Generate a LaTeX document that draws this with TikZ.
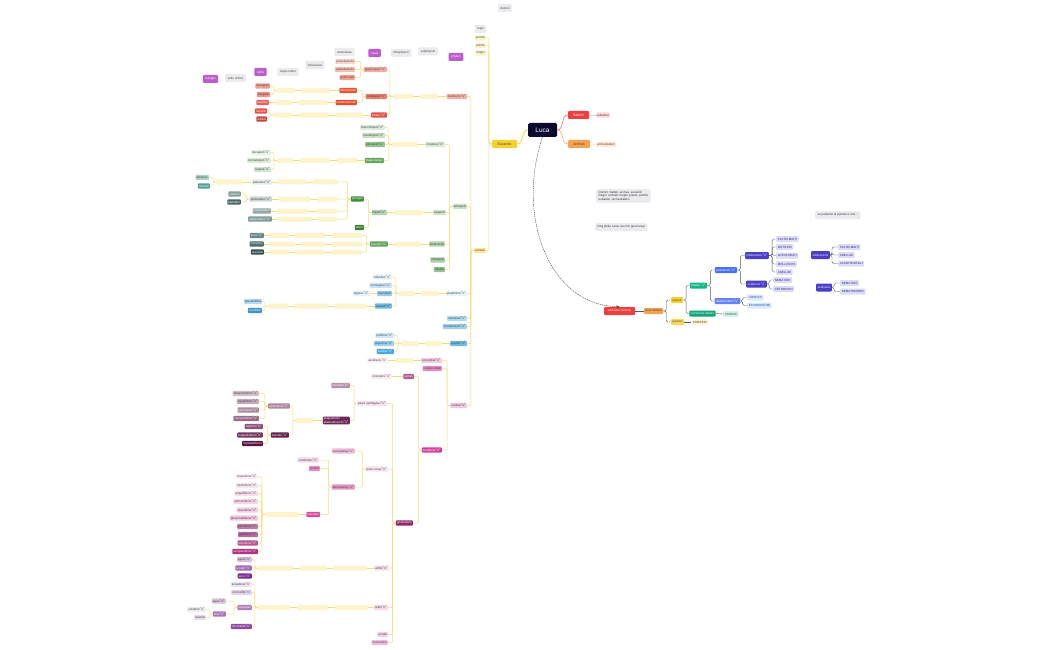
\documentclass[tikz,border=0pt]{standalone}
\usepackage{fontspec}
\setmainfont{Liberation Sans}
\definecolor{notte}{HTML}{0C0A30}
\definecolor{rossoB}{HTML}{F03E3E}
\definecolor{aranB}{HTML}{F9A24D}
\definecolor{gialB}{HTML}{FAD02C}
\definecolor{verB}{HTML}{12B886}
\definecolor{bluB}{HTML}{4C6EF5}
\definecolor{indB}{HTML}{4A3FC6}
\definecolor{lavanda}{HTML}{DCDCF5}
\definecolor{grigioE}{HTML}{EBEBEF}
\definecolor{violaE}{HTML}{BD5DCC}
\definecolor{vuotoc}{HTML}{FDF3CC}
\definecolor{lineaG}{HTML}{F7DC6F}
\definecolor{cSal}{HTML}{EE7C6F}
\definecolor{cAra}{HTML}{E8552F}
\definecolor{cRos}{HTML}{E4504B}
\definecolor{cVer}{HTML}{3F8F37}
\definecolor{cTea}{HTML}{2F8F80}
\definecolor{cGri}{HTML}{4F7472}
\definecolor{cAzz}{HTML}{3FA3DC}
\definecolor{cRsa}{HTML}{D6409A}
\definecolor{cPru}{HTML}{5A1243}
\definecolor{cVio}{HTML}{7A2A91}
\newcommand{\giu}{\,$\scriptstyle\vee$}
\tikzset{
  nodo/.style={rounded corners=1pt, inner xsep=1.1pt, inner ysep=0.6pt, minimum height=5.4pt, text=black!75, font=\fontsize{3}{3.4}\selectfont},
  bianco/.style={nodo, text=white},
  vuoto/.style={rounded corners=1pt, fill=vuotoc, minimum height=5pt, inner sep=0pt},
  etic/.style={nodo, fill=grigioE, minimum height=8pt, inner xsep=2.5pt},
  etiv/.style={etic, fill=violaE, text=white},
  nota/.style={nodo, fill=grigioE, rounded corners=1.5pt, align=left, inner xsep=2.5pt, inner ysep=2pt, text=black!80},
  dx/.style={nodo, minimum height=6pt, inner xsep=1.6pt},
  foglia/.style={dx, fill=lavanda, text=indB!70!black, anchor=west},
  lgiallo/.style={draw=lineaG, line width=0.5pt, rounded corners=1.2pt},
  lgrigio/.style={draw=black!65, line width=0.4pt, rounded corners=1.5pt}
}
\begin{document}
\begin{tikzpicture}[x=1pt,y=-1pt]
\useasboundingbox (0,0) rectangle (1050,650);
\fill[white] (0,0) rectangle (1050,650);

% intestazioni
\node[etiv] (famiglie) at (210.5,79) {famiglie};
\node[etic] (sottordine) at (235.5,78) {sotto ordine};
\node[etiv] (ordini) at (260.5,72) {ordini};
\node[etic] (superordine) at (288,72) {superordine};
\node[etic] (infraclasse) at (315,65) {infraclasse};
\node[etic] (sottoclasse) at (344.5,52) {sottoclasse};
\node[etiv] (classi) at (374.5,53) {classi};
\node[etic] (infraphylum) at (401,53) {infraphylum};
\node[etic] (subphylum) at (428,51.5) {subphylum};
\node[etiv] (phylum) at (456,57) {phylum};
\node[etic] (domini) at (505,8) {domini};
\node[etic] (regni) at (480.5,29) {regni};

% Luca e domini
\node[nodo, fill=notte, text=white, minimum width=29pt, minimum height=14pt, rounded corners=1.5pt, font=\fontsize{6.5}{7}\selectfont] (luca) at (542.5,130) {Luca};
\node[bianco, fill=rossoB, minimum width=21pt, minimum height=8pt, font=\fontsize{3.6}{4}\selectfont] (batteri) at (578.5,115) {Batteri};
\node[nodo, fill=rossoB!20] (eubatteri) at (603,115) {eubatteri};
\node[nodo, fill=aranB, minimum width=22pt, minimum height=8pt, font=\fontsize{3.6}{4}\selectfont] (archea) at (579,144) {Archea};
\node[nodo, fill=aranB!25] (archeob) at (606,144.5) {archeobatteri};
\node[nodo, fill=gialB, minimum width=25pt, minimum height=8pt, font=\fontsize{3.6}{4}\selectfont] (eucarioti) at (504.5,144) {Eucarioti};
\node[nodo, fill=gialB!25, anchor=east] (protisti) at (486,38) {protisti};
\node[nodo, fill=gialB!25, anchor=east] (piante) at (486,45.5) {piante};
\node[nodo, fill=gialB!25, anchor=east] (funghi) at (486,53) {funghi};
\node[nodo, fill=gialB!50, anchor=east] (animali) at (486,250.5) {animali};
\draw[draw=rossoB!70, line width=0.7pt] (luca.east) to[out=0,in=180] (batteri.west);
\draw[draw=aranB!80, line width=0.7pt] (luca.east) to[out=0,in=180] (archea.west);
\draw[draw=gialB, line width=0.7pt] (luca.west) to[out=180,in=0] (eucarioti.east);
\draw[draw=rossoB!30, line width=0.5pt] (batteri.east) -- (eubatteri.west);
\draw[draw=aranB!40, line width=0.5pt] (archea.east) -- (archeob.west);
\foreach \f in {protisti,piante,funghi,animali} \draw[lgiallo] (eucarioti.west) -- ++(-3,0) |- (\f.east);

% molluschi
\node[nodo, fill=cSal!60, anchor=east] (molluschi) at (467,96.5) {molluschi\giu};
\node[vuoto, minimum width=18pt] (vm1) at (429,96.5) {};
\node[vuoto, minimum width=20pt] (vm2) at (403,96.5) {};
\node[nodo, fill=cSal!65, anchor=east] (gaster) at (387,69.5) {gasteropodi\giu};
\node[nodo, fill=cSal, anchor=east] (cefalo) at (387,96.5) {cefalopodi\giu};
\node[bianco, fill=cRos, anchor=east] (bivalvi) at (387,115) {bivalvi\giu};
\node[nodo, fill=cAra!25, anchor=east] (prosob) at (355,61.5) {prosobranchi};
\node[nodo, fill=cAra!38, anchor=east] (opisto) at (355,69.5) {opistobranchi};
\node[nodo, fill=cAra!55, anchor=east] (polmon) at (355,77.5) {polmonati};
\node[bianco, fill=cAra, anchor=east] (dibran) at (357,90.5) {dibranchiati};
\node[vuoto, minimum width=28pt] (vm3) at (316,90.5) {};
\node[vuoto, minimum width=18pt] (vm4) at (286,90.5) {};
\node[nodo, fill=cSal!75, anchor=east] (decap) at (270,86) {decapodi};
\node[nodo, fill=cSal!85, anchor=east] (ottop) at (270,94.5) {ottopodi};
\node[bianco, fill=cAra!90!red, anchor=east] (tetra) at (357,102.5) {tetrabranchiati};
\node[vuoto, minimum width=29pt] (vm5) at (312.5,102.5) {};
\node[vuoto, minimum width=17pt] (vm6) at (283.5,102.5) {};
\node[bianco, fill=cRos!90, anchor=east] (nautil) at (269,102.5) {nautilus};
\node[vuoto, minimum width=27pt] (vm7) at (349.5,115) {};
\node[vuoto, minimum width=30pt] (vm8) at (314,115) {};
\node[vuoto, minimum width=19pt] (vm9) at (282.5,115) {};
\node[bianco, fill=cRos, anchor=east] (ostreidi) at (267,111) {ostreidi};
\node[bianco, fill=cRos!85!black, anchor=east] (mitilidi) at (267,119) {mitilidi};
\draw[lgiallo] (molluschi.west) -- (vm1.east) (vm1.west) -- (vm2.east);
\foreach \f in {gaster,cefalo,bivalvi} \draw[lgiallo] (vm2.west) -- ++(-3,0) |- (\f.east);
\foreach \f in {prosob,opisto,polmon} \draw[lgiallo] (gaster.west) -- ++(-3,0) |- (\f.east);
\foreach \f in {dibran,tetra} \draw[lgiallo] (cefalo.west) -- ++(-3,0) |- (\f.east);
\draw[lgiallo] (dibran.west) -- (vm3.east) (vm3.west) -- (vm4.east);
\foreach \f in {decap,ottop} \draw[lgiallo] (vm4.west) -- ++(-3,0) |- (\f.east);
\draw[lgiallo] (tetra.west) -- (vm5.east) (vm5.west) -- (vm6.east) (vm6.west) -- (nautil.east);
\draw[lgiallo] (bivalvi.west) -- (vm7.east) (vm7.west) -- (vm8.east) (vm8.west) -- (vm9.east);
\foreach \f in {ostreidi,mitilidi} \draw[lgiallo] (vm9.west) -- ++(-3,0) |- (\f.east);

% artropodi
\node[nodo, fill=cVer!28, anchor=east] (artropodi) at (467,206.5) {artropodi};
\node[nodo, fill=cVer!20, anchor=east] (crostacei) at (445,144.5) {crostacei\giu};
\node[vuoto, minimum width=25pt] (va1) at (404.5,144.5) {};
\node[nodo, fill=cVer!18, anchor=east] (branchio) at (385,127.5) {branchiopodi\giu};
\node[nodo, fill=cVer!28, anchor=east] (maxillo) at (385,135.5) {maxillopodi\giu};
\node[nodo, fill=cVer!55, anchor=east] (ostraco) at (385,144.5) {ostracodi\giu};
\node[bianco, fill=cVer!80, anchor=east] (malaco) at (384,160.5) {malacostraci};
\node[vuoto, minimum width=20pt] (va2) at (347,160.5) {};
\node[vuoto, minimum width=30pt] (va3) at (315,160.5) {};
\node[vuoto, minimum width=16pt] (va4) at (285,160.5) {};
\node[nodo, fill=cVer!12, anchor=east] (decap2) at (271,152.5) {decapodi\giu};
\node[nodo, fill=cVer!18, anchor=east] (stomato) at (271,160.5) {stomatopodi\giu};
\node[nodo, fill=cVer!24, anchor=east] (isopodi) at (271,169.5) {isopodi\giu};
\node[nodo, fill=cVer!25, anchor=east] (esapodi) at (446,212.5) {esapodi};
\node[vuoto, minimum width=30pt] (va5) at (408,212.5) {};
\node[nodo, fill=cVer!38, anchor=east] (insetti) at (387,212.5) {insetti\giu};
\node[bianco, fill=cVer, anchor=east] (pterigoti) at (364,199) {pterigoti};
\node[bianco, fill=cVer!90!black, anchor=east] (atteri) at (364,227.5) {atteri};
\node[vuoto, minimum width=24pt] (va6) at (325,182) {};
\node[vuoto, minimum width=28pt] (va7) at (292,182) {};
\node[nodo, fill=cGri!14, anchor=east] (paleott) at (272,182) {paleotteri\giu};
\node[vuoto, minimum width=27pt] (va8) at (229.5,182) {};
\node[nodo, fill=cTea!40, anchor=east] (efemere) at (209,177.5) {efemere};
\node[bianco, fill=cTea!85, anchor=east] (odonati) at (210,186) {odonati};
\node[vuoto, minimum width=19pt] (va9) at (327.5,199) {};
\node[vuoto, minimum width=32pt] (va10) at (295,199) {};
\node[nodo, fill=cGri!28, anchor=east] (polineott) at (272,199) {polineotteri\giu};
\node[bianco, fill=cGri!70, anchor=east] (ortott) at (241,194) {ortotteri};
\node[bianco, fill=cGri!90!black, anchor=east] (blatt) at (241,202) {blattodei};
\node[vuoto, minimum width=21pt] (va11) at (326.5,211) {};
\node[vuoto, minimum width=31pt] (va12) at (292.5,211) {};
\node[bianco, fill=cGri!62, anchor=east] (paraneott) at (271,211) {paraneotteri};
\node[vuoto, minimum width=19pt] (va13) at (327.5,219) {};
\node[vuoto, minimum width=34pt] (va14) at (295,219) {};
\node[bianco, fill=cGri!72, anchor=east] (oligoneott) at (272,219) {oligoneotteri\giu};
\node[nodo, fill=cVer!40, anchor=east] (chelic) at (445,244) {chelicerati};
\node[vuoto, minimum width=27pt] (va15) at (407.5,244) {};
\node[bianco, fill=cVer!80, anchor=east] (aracnidi) at (388,244) {aracnidi\giu};
\node[vuoto, minimum width=31pt] (va16) at (346.5,235.5) {};
\node[vuoto, minimum width=30pt] (va17) at (310,235.5) {};
\node[vuoto, minimum width=19pt] (va18) at (279.5,235.5) {};
\node[bianco, fill=cGri!85, anchor=east] (acari) at (264,235.5) {acari\giu};
\node[vuoto, minimum width=30pt] (va19) at (347,244) {};
\node[vuoto, minimum width=23pt] (va20) at (313.5,244) {};
\node[vuoto, minimum width=25pt] (va21) at (282.5,244) {};
\node[bianco, fill=cGri!95!black, anchor=east] (scorpioni) at (264,244) {scorpioni};
\node[vuoto, minimum width=31pt] (va22) at (346.5,252) {};
\node[vuoto, minimum width=30pt] (va23) at (310,252) {};
\node[vuoto, minimum width=19pt] (va24) at (279.5,252) {};
\node[bianco, fill=cGri!70!black, anchor=east] (araneidi) at (264,252) {araneidi};
\node[nodo, fill=cVer!45, anchor=east] (miriapodi) at (445,260) {miriapodi};
\node[nodo, fill=cVer!55, anchor=east] (trilobiti) at (445,269.5) {trilobiti};
\foreach \f in {crostacei,esapodi,chelic,miriapodi,trilobiti} \draw[lgiallo] (artropodi.west) -- ++(-3,0) |- (\f.east);
\draw[lgiallo] (crostacei.west) -- (va1.east);
\foreach \f in {branchio,maxillo,ostraco,malaco} \draw[lgiallo] (va1.west) -- ++(-3,0) |- (\f.east);
\draw[lgiallo] (malaco.west) -- (va2.east) (va2.west) -- (va3.east) (va3.west) -- (va4.east);
\foreach \f in {decap2,stomato,isopodi} \draw[lgiallo] (va4.west) -- ++(-3,0) |- (\f.east);
\draw[lgiallo] (esapodi.west) -- (va5.east) (va5.west) -- (insetti.east);
\foreach \f in {pterigoti,atteri} \draw[lgiallo] (insetti.west) -- ++(-3,0) |- (\f.east);
\foreach \f in {va6,va9,va11,va13} \draw[lgiallo] (pterigoti.west) -- ++(-3,0) |- (\f.east);
\draw[lgiallo] (va6.west) -- (va7.east) (va7.west) -- (paleott.east) (paleott.west) -- (va8.east);
\foreach \f in {efemere,odonati} \draw[lgiallo] (va8.west) -- ++(-3,0) |- (\f.east);
\draw[lgiallo] (va9.west) -- (va10.east) (va10.west) -- (polineott.east);
\foreach \f in {ortott,blatt} \draw[lgiallo] (polineott.west) -- ++(-3,0) |- (\f.east);
\draw[lgiallo] (va11.west) -- (va12.east) (va12.west) -- (paraneott.east);
\draw[lgiallo] (va13.west) -- (va14.east) (va14.west) -- (oligoneott.east);
\draw[lgiallo] (chelic.west) -- (va15.east) (va15.west) -- (aracnidi.east);
\foreach \f in {va16,va19,va22} \draw[lgiallo] (aracnidi.west) -- ++(-3,0) |- (\f.east);
\draw[lgiallo] (va16.west) -- (va17.east) (va17.west) -- (va18.east) (va18.west) -- (acari.east);
\draw[lgiallo] (va19.west) -- (va20.east) (va20.west) -- (va21.east) (va21.west) -- (scorpioni.east);
\draw[lgiallo] (va22.west) -- (va23.east) (va23.west) -- (va24.east) (va24.west) -- (araneidi.east);

% platelminti, nematodi, anellidi
\node[nodo, fill=cAzz!12, anchor=east] (platelm) at (467,293.5) {platelminti\giu};
\node[vuoto, minimum width=17pt] (vp1) at (429.5,293.5) {};
\node[vuoto, minimum width=16pt] (vp2) at (407,293.5) {};
\node[nodo, fill=cAzz!14, anchor=east] (turbell) at (392,277) {turbellari\giu};
\node[nodo, fill=cAzz!28, anchor=east] (monog) at (392,285.5) {monogenei\giu};
\node[nodo, fill=cAzz!55, anchor=east] (tremat) at (392,293.5) {trematodi};
\node[nodo, fill=cAzz!75, anchor=east] (cestodi) at (392,306) {cestodi\giu};
\node[nodo, fill=cAzz!15, anchor=east] (digenei) at (370,293.5) {digenei\giu};
\node[vuoto, minimum width=33pt] (vp3) at (350.5,306) {};
\node[vuoto, minimum width=34pt] (vp4) at (311,306) {};
\node[vuoto, minimum width=20pt] (vp5) at (278,306) {};
\node[nodo, fill=cAzz!40, anchor=east] (pseudof) at (262,301.5) {pseudofillidi};
\node[bianco, fill=cAzz!90!black, anchor=east] (ciclof) at (262,310.5) {ciclofillidi};
\node[nodo, fill=cAzz!40, anchor=east] (nematodi) at (467,318.5) {nematodi\giu};
\node[nodo, fill=cAzz!50, anchor=east] (nematom) at (467,326.5) {nematomorfi\giu};
\node[nodo, fill=cAzz!75, anchor=east] (anellidi) at (467,343.5) {anellidi\giu};
\node[vuoto, minimum width=17pt] (vp6) at (433.5,343.5) {};
\node[vuoto, minimum width=18pt] (vp7) at (410,343.5) {};
\node[nodo, fill=cAzz!25, anchor=east] (polich) at (394,335.5) {policheti\giu};
\node[nodo, fill=cAzz!50, anchor=east] (oligoc) at (394,343.5) {oligocheti\giu};
\node[bianco, fill=cAzz!95, anchor=east] (irud) at (394,351.5) {irudinei\giu};
\draw[lgiallo] (platelm.west) -- (vp1.east) (vp1.west) -- (vp2.east);
\foreach \f in {turbell,monog,tremat,cestodi} \draw[lgiallo] (vp2.west) -- ++(-3,0) |- (\f.east);
\draw[lgiallo] (tremat.west) -- (digenei.east);
\draw[lgiallo] (cestodi.west) -- (vp3.east) (vp3.west) -- (vp4.east) (vp4.west) -- (vp5.east);
\foreach \f in {pseudof,ciclof} \draw[lgiallo] (vp5.west) -- ++(-3,0) |- (\f.east);
\draw[lgiallo] (anellidi.west) -- (vp6.east) (vp6.west) -- (vp7.east);
\foreach \f in {polich,oligoc,irud} \draw[lgiallo] (vp7.west) -- ++(-3,0) |- (\f.east);

% cordati
\node[nodo, fill=cRsa!30, anchor=east] (cordati) at (467,405.5) {cordati\giu};
\node[nodo, fill=cRsa!28, anchor=east] (urocord) at (442,360.5) {urocordati\giu};
\node[vuoto, minimum width=17pt] (vc1) at (404.5,360.5) {};
\node[nodo, fill=cRsa!10, anchor=east] (ascid) at (388,360.5) {ascidiacei\giu};
\node[nodo, fill=cRsa!60, anchor=east] (cefaloc) at (442,368.5) {cefalocordati};
\node[bianco, fill=cRsa, anchor=east] (vertebr) at (442,450) {vertebrati\giu};
\node[bianco, fill=cRsa!55!gray, anchor=east] (agnati) at (414,376.5) {agnati};
\node[nodo, fill=cRsa!12, anchor=east] (ciclost) at (392,376.5) {ciclostomi\giu};
\node[bianco, fill=cPru!55!cRsa, anchor=east] (gnatost) at (413,523) {gnatostomi};
\node[nodo, fill=cRsa!15, anchor=east] (pcart) at (387,403.5) {pesci cartilaginei\giu};
\node[nodo, fill=cRsa!15, anchor=east] (possei) at (388,469) {pesci ossei\giu};
\node[nodo, fill=cRsa!18, anchor=east] (anfibi) at (389,568) {anfibi\giu};
\node[nodo, fill=cRsa!20, anchor=east] (rettili) at (388,607.5) {rettili\giu};
\node[nodo, fill=cRsa!25, anchor=east] (uccelli) at (388,634.5) {uccelli};
\node[nodo, fill=cRsa!35, anchor=east] (mammif) at (388,642.5) {mammiferi};
\node[bianco, fill=cPru!45, anchor=east] (olocef) at (350,385.5) {olocefali\giu};
\node[bianco, fill=cPru!90, align=left, anchor=east] (elasmo) at (350,420.5) {plagiostomi/\\elasmobranchi\giu};
\node[vuoto, minimum width=17pt] (vc2) at (304.5,420.5) {};
\node[bianco, fill=cPru!50, anchor=east] (selaci) at (290,406) {selacimorfi\giu};
\node[bianco, fill=cPru!95, anchor=east] (batoidei) at (289,435) {batoidei\giu};
\node[nodo, fill=cPru!28, anchor=east] (hexan) at (259,393.5) {hexanchiformi\giu};
\node[nodo, fill=cPru!36, anchor=east] (squalif) at (259,401.5) {squaliformi\giu};
\node[bianco, fill=cPru!50, anchor=east] (lamnif) at (259,410) {lamniformi\giu};
\node[bianco, fill=cPru!62, anchor=east] (carcar) at (259,418.5) {carcariniformi\giu};
\node[bianco, fill=cPru!72, anchor=east] (rajif) at (263,426.5) {rajiformi\giu};
\node[bianco, fill=cPru!85, anchor=east] (torped) at (263,435) {torpediniformi\giu};
\node[bianco, fill=cPru, anchor=east] (myliob) at (263,443.5) {myliobatiformi};
\node[nodo, fill=cRsa!35, anchor=east] (sarcop) at (355,451) {sarcopterigi\giu};
\node[nodo, fill=cRsa!55, anchor=east] (attinop) at (355,487) {attinopterigi\giu};
\node[nodo, fill=cRsa!20, anchor=east] (condro) at (319,460) {condrostei\giu};
\node[nodo, fill=cRsa!60, anchor=east] (olostei) at (320,468.5) {olostei};
\node[bianco, fill=cRsa!95, anchor=east] (teleo) at (320,514.5) {teleostei};
\node[vuoto, minimum width=34pt] (vc3) at (282,514.5) {};
\node[nodo, fill=cRsa!10, anchor=east] (clupe) at (258,476.5) {clupeiformi\giu};
\node[nodo, fill=cRsa!14, anchor=east] (cipri) at (258,485.5) {cipriniformi\giu};
\node[nodo, fill=cRsa!18, anchor=east] (anguil) at (258,493.5) {anguilliformi\giu};
\node[nodo, fill=cRsa!22, anchor=east] (salmon) at (258,501.5) {salmoniformi\giu};
\node[nodo, fill=cRsa!26, anchor=east] (esoc) at (258,510) {esociformi\giu};
\node[nodo, fill=cRsa!30, anchor=east] (pleuro) at (258,518) {pleuronettiformi\giu};
\node[nodo, fill=cRsa!40!cPru!60!white, anchor=east] (perci) at (258,526.5) {perciformi\giu};
\node[nodo, fill=cRsa!50!cPru!70!white, anchor=east] (gadi) at (258,534.5) {gadiformi\giu};
\node[bianco, fill=cRsa!60!cPru!80!white, anchor=east] (silur) at (258,543) {siluriformi\giu};
\node[bianco, fill=cRsa!70!cPru, anchor=east] (scorp) at (258,551.5) {scorpeniformi\giu};
\node[vuoto, minimum width=34pt] (vc4) at (350,568) {};
\node[vuoto, minimum width=27pt] (vc5) at (313.5,568) {};
\node[vuoto, minimum width=35pt] (vc6) at (275.5,568) {};
\node[nodo, fill=cVio!30, anchor=east] (apodi) at (252,559.5) {apodi\giu};
\node[bianco, fill=cVio!70, anchor=east] (urodeli) at (252,568) {urodeli\giu};
\node[bianco, fill=cVio, anchor=east] (anuri) at (252,576) {anuri\giu};
\node[vuoto, minimum width=33pt] (vc7) at (351.5,607.5) {};
\node[vuoto, minimum width=31pt] (vc8) at (312.5,607.5) {};
\node[vuoto, minimum width=32pt] (vc9) at (274,607.5) {};
\node[nodo, fill=cVio!12, anchor=east] (testud) at (252,584.5) {testudinati\giu};
\node[nodo, fill=cVio!20, anchor=east] (coccod) at (252,592.5) {coccodrilli\giu};
\node[bianco, fill=cVio!60, anchor=east] (squamati) at (252,607.5) {squamati};
\node[bianco, fill=cVio!85, anchor=east] (rincoc) at (252,626.5) {rincocefali\giu};
\node[nodo, fill=cVio!30, anchor=east] (sauri) at (226,601) {sauri\giu};
\node[bianco, fill=cVio!65, anchor=east] (ofidi) at (226,614) {ofidi\giu};
\node[nodo, fill=cVio!10, anchor=east] (colubr) at (206,609.5) {colubridi\giu};
\node[nodo, fill=cVio!16, anchor=east] (viper) at (206,617.5) {viperidi};
\foreach \f in {urocord,cefaloc,vertebr} \draw[lgiallo] (cordati.west) -- ++(-3,0) |- (\f.east);
\draw[lgiallo] (urocord.west) -- (vc1.east) (vc1.west) -- (ascid.east);
\foreach \f in {agnati,gnatost} \draw[lgiallo] (vertebr.west) -- ++(-3,0) |- (\f.east);
\draw[lgiallo] (agnati.west) -- (ciclost.east);
\foreach \f in {pcart,possei,anfibi,rettili,uccelli,mammif} \draw[lgiallo] (gnatost.west) -- ++(-3,0) |- (\f.east);
\foreach \f in {olocef,elasmo} \draw[lgiallo] (pcart.west) -- ++(-3,0) |- (\f.east);
\draw[lgiallo] (elasmo.west) -- (vc2.east);
\foreach \f in {selaci,batoidei} \draw[lgiallo] (vc2.west) -- ++(-3,0) |- (\f.east);
\foreach \f in {hexan,squalif,lamnif,carcar} \draw[lgiallo] (selaci.west) -- ++(-3,0) |- (\f.east);
\foreach \f in {rajif,torped,myliob} \draw[lgiallo] (batoidei.west) -- ++(-3,0) |- (\f.east);
\foreach \f in {sarcop,attinop} \draw[lgiallo] (possei.west) -- ++(-3,0) |- (\f.east);
\foreach \f in {condro,olostei,teleo} \draw[lgiallo] (attinop.west) -- ++(-3,0) |- (\f.east);
\draw[lgiallo] (teleo.west) -- (vc3.east);
\foreach \f in {clupe,cipri,anguil,salmon,esoc,pleuro,perci,gadi,silur,scorp} \draw[lgiallo] (vc3.west) -- ++(-3,0) |- (\f.east);
\draw[lgiallo] (anfibi.west) -- (vc4.east) (vc4.west) -- (vc5.east) (vc5.west) -- (vc6.east);
\foreach \f in {apodi,urodeli,anuri} \draw[lgiallo] (vc6.west) -- ++(-3,0) |- (\f.east);
\draw[lgiallo] (rettili.west) -- (vc7.east) (vc7.west) -- (vc8.east) (vc8.west) -- (vc9.east);
\foreach \f in {testud,coccod,squamati,rincoc} \draw[lgiallo] (vc9.west) -- ++(-3,0) |- (\f.east);
\foreach \f in {sauri,ofidi} \draw[lgiallo] (squamati.west) -- ++(-3,0) |- (\f.east);
\foreach \f in {colubr,viper} \draw[lgiallo] (ofidi.west) -- ++(-3,0) |- (\f.east);
\foreach \f in {molluschi,artropodi,platelm,nematodi,nematom,anellidi,cordati} \draw[lgiallo] (animali.west) -- ++(-3,0) |- (\f.east);

% note
\node[nota, anchor=north west] (nota1) at (596,189) {Domini: batteri, archea, eucarioti\\Regni: animali, funghi, piante, protisti\\eubatteri, archeobatteri};
\node[nota, anchor=north west, minimum height=8pt] (nota2) at (595,223) {king philip came over for good soup};
\node[nota, anchor=north west, minimum height=8pt] (nota3) at (815,211) {se parliamo di animali è così...};

% albero degli animali
\node[bianco, fill=rossoB, minimum width=31pt, minimum height=8pt] (antenato) at (619.5,311) {antenato comune};
\node[dx, fill=aranB] (pluric) at (653.5,311) {pluricellulari};
\node[dx, fill=gialB] (tessuti) at (677,300) {tessuti};
\node[dx, fill=gialB!80] (parazoi) at (677.5,322) {parazoi};
\node[dx, fill=gialB!20, anchor=west] (porif) at (691,322) {PORIFERI};
\node[dx, fill=verB, text=white] (bilat) at (698.5,285.5) {bilateri\giu};
\node[dx, fill=verB!90!black, text=white] (radiale) at (702.5,313.5) {simmetria radiale};
\node[dx, fill=verB!18, anchor=west, text=verB!60!black] (cnidari) at (723,314) {CNIDARI};
\node[dx, fill=bluB, text=white] (protos) at (726,270) {protostomi\giu};
\node[dx, fill=bluB!85, text=white] (deuter) at (727.5,301) {deuterostomi\giu};
\node[dx, fill=indB, text=white, minimum height=7pt] (lofo) at (757,255.5) {lofotrocozoi\giu};
\node[dx, fill=indB, text=white, minimum height=7pt] (ecdi) at (756.5,284) {ecdisozoi\giu};
\node[foglia] (rplat) at (776,239) {PLATELMINTI};
\node[foglia] (rrotif) at (776,247) {ROTIFERI};
\node[foglia] (rlofof) at (776,255.5) {LOFOFORATI};
\node[foglia] (rmollu) at (776,264) {MOLLUSCHI};
\node[foglia] (ranell) at (776,272) {ANELLIDI};
\node[foglia] (rnemat) at (773,280) {NEMATODI};
\node[foglia] (rartro) at (773,289) {ARTROPODI};
\node[foglia, fill=bluB!20!cAzz!20, text=bluB!70!black] (rcord) at (747,297.5) {CORDATI};
\node[foglia, fill=bluB!20!cAzz!20, text=bluB!70!black] (rechin) at (747,305.5) {ECHINODERMI};
\node[dx, fill=indB, text=white, minimum height=8pt] (lofo2) at (820.5,255) {lofotrocozoi};
\node[foglia] (splat) at (838,247) {PLATELMINTI};
\node[foglia] (sanell) at (838,255) {ANELLIDI};
\node[foglia] (sacant) at (838,263.5) {ACANTOCEFALI};
\node[dx, fill=indB, text=white, minimum height=8pt] (ecdi2) at (824,287.5) {ecdisozoi};
\node[foglia] (snemat) at (840,283) {NEMATODI};
\node[foglia] (snemom) at (840,291.5) {NEMATOMORFI};
\draw[lgrigio] (antenato.east) -- (pluric.west);
\foreach \f in {tessuti,parazoi} \draw[lgrigio] (pluric.east) -- ++(3,0) |- (\f.west);
\draw[lgrigio] (parazoi.east) -- (porif.west);
\foreach \f in {bilat,radiale} \draw[lgrigio] (tessuti.east) -- ++(3,0) |- (\f.west);
\draw[lgrigio] (radiale.east) -- (cnidari.west);
\foreach \f in {protos,deuter} \draw[lgrigio] (bilat.east) -- ++(3,0) |- (\f.west);
\foreach \f in {lofo,ecdi} \draw[lgrigio] (protos.east) -- ++(3,0) |- (\f.west);
\foreach \f in {rplat,rrotif,rlofof,rmollu,ranell} \draw[lgrigio] (lofo.east) -- ++(3,0) |- (\f.west);
\foreach \f in {rnemat,rartro} \draw[lgrigio] (ecdi.east) -- ++(2,0) |- (\f.west);
\foreach \f in {rcord,rechin} \draw[lgrigio] (deuter.east) -- ++(2,0) |- (\f.west);
\foreach \f in {splat,sanell,sacant} \draw[lgrigio] (lofo2.east) -- ++(2,0) |- (\f.west);
\foreach \f in {snemat,snemom} \draw[lgrigio] (ecdi2.east) -- ++(2,0) |- (\f.west);
\draw[black!75, line width=0.4pt, dash pattern=on 1.2pt off 0.8pt, -stealth] (luca.south) .. controls (516,215) and (548,305) .. (antenato.north);
\end{tikzpicture}
\end{document}
